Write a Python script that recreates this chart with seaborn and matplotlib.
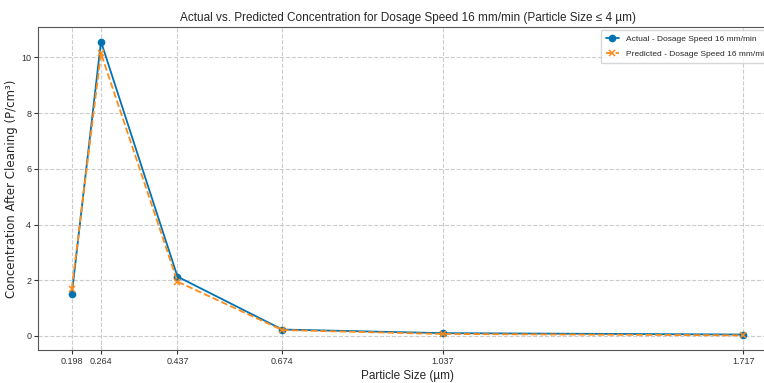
import matplotlib
matplotlib.use("Agg")
import matplotlib.pyplot as plt
import seaborn as sns
import pandas as pd

particle_size = [0.198, 0.264, 0.437, 0.674, 1.037, 1.717]
actual = [1.49, 10.57, 2.13, 0.23, 0.10, 0.05]
predicted = [1.70, 10.15, 1.95, 0.21, 0.07, 0.02]
tick_labels = ["0.198", "0.264", "0.437", "0.674", "1.037", "1.717"]

sns.set_style("ticks")
plt.rcParams['font.family'] = ['Liberation Sans', 'DejaVu Sans']

fig = plt.figure(figsize=(7.64, 3.83), dpi=100)
ax = fig.add_axes([0.05, 0.086, 0.967, 0.844])

df_a = pd.DataFrame({"x": particle_size, "y": actual})
df_p = pd.DataFrame({"x": particle_size, "y": predicted})

sns.lineplot(data=df_a, x="x", y="y", ax=ax, color="#0173b2", marker="o",
             markersize=4.5, markeredgewidth=1, markeredgecolor="#0173b2",
             linewidth=1.3, label="Actual - Dosage Speed 16 mm/min")
sns.lineplot(data=df_p, x="x", y="y", ax=ax, color="#ff8c1a", marker="x",
             markersize=4.5, markeredgewidth=1.1, markeredgecolor="#ff8c1a",
             linestyle="--", linewidth=1.3,
             label="Predicted - Dosage Speed 16 mm/min")

ax.set_xticks(particle_size)
ax.set_xticklabels(tick_labels)
ax.tick_params(labelsize=6.5, length=3, pad=2, colors="#333333")
ax.grid(True, linestyle="--", color="#cccccc", linewidth=0.8)
ax.set_xlabel("Particle Size (µm)", fontsize=8.5, labelpad=3)
ax.set_ylabel("Concentration After Cleaning (P/cm³)", fontsize=8.5,
              family=['DejaVu Sans'])
ax.yaxis.set_label_coords(-0.027, 0.5)
ax.set_title("Actual vs. Predicted Concentration for Dosage Speed 16 mm/min (Particle Size ≤ 4 µm)",
             fontsize=8.5, pad=4)
for s in ax.spines.values():
    s.set_color("#555555")
ax.legend(loc="upper right", fontsize=6, frameon=True, handlelength=1.6,
          borderaxespad=0.4, labelspacing=0.9, borderpad=0.6)

fig.savefig("out.png", dpi=100)
